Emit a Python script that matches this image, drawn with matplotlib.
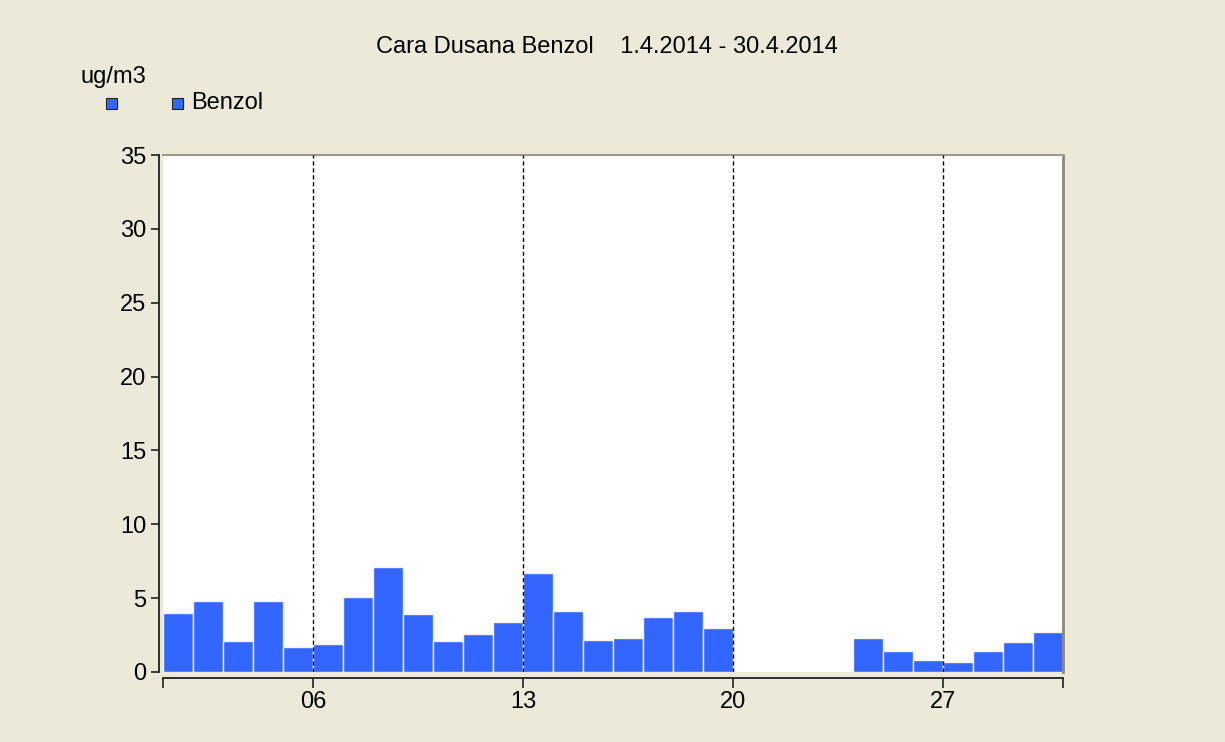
import numpy as np
import matplotlib
matplotlib.use("Agg")
import matplotlib.pyplot as plt
from matplotlib.patches import Rectangle

plt.rcParams['font.family'] = ['Liberation Sans', 'DejaVu Sans']

# ---- data ----
days = list(range(1, 31))
benzol = [4.0, 4.8, 2.1, 4.8, 1.7, 1.9, 5.1, 7.1, 3.9, 2.1,
          2.6, 3.4, 6.7, 4.1, 2.2, 2.3, 3.7, 4.1, 3.0, np.nan,
          np.nan, np.nan, np.nan, 2.3, 1.4, 0.8, 0.7, 1.4, 2.0, 2.7]
tick_days = [0, 5, 12, 19, 26, 30]
tick_labels = ['', '06', '13', '20', '27', '']
yticks = [0, 5, 10, 15, 20, 25, 30, 35]
title = 'Cara Dusana Benzol    1.4.2014 - 30.4.2014'
unit = 'ug/m3'
series_name = 'Benzol'

BG = '#ECE9D8'
BAR = '#3366FF'
FS = 17
TXT = '#000000'

W, H = 1225, 742
fig = plt.figure(figsize=(W / 100, H / 100), dpi=100, facecolor=BG)
ax = fig.add_axes([163 / W, (H - 672) / H, (1063 - 163) / W, (672 - 155) / H])
ax.set_facecolor('white')

x = np.array(days) - 0.5
ax.bar(x, benzol, width=1.0, color=BAR, edgecolor='#F2F2F2', linewidth=1.0, zorder=2)

for d in tick_days[1:-1]:
    ax.axvline(d, color='black', linestyle=(0, (3, 2)), linewidth=1.0, zorder=3)

ax.set_xlim(0, 30)
ax.set_ylim(0, 35)
ax.set_yticks(yticks)
ax.set_yticklabels([str(v) for v in yticks])
ax.set_xticks(tick_days)
ax.set_xticklabels(tick_labels)

ax.spines['left'].set_position(('outward', 3))
ax.spines['bottom'].set_position(('outward', 4))
ax.spines['left'].set_color('#202020')
ax.spines['bottom'].set_color('#202020')
ax.spines['left'].set_linewidth(1.3)
ax.spines['bottom'].set_linewidth(1.3)
ax.spines['top'].set_color('#9A9A8E')
ax.spines['right'].set_color('#8A8A80')
ax.spines['top'].set_linewidth(1.5)
ax.spines['right'].set_linewidth(2.0)
ax.tick_params(axis='y', length=6, width=1.2, pad=3, colors='#202020', labelcolor=TXT, labelsize=FS)
ax.tick_params(axis='x', length=7, width=1.2, pad=3, colors='#202020', labelcolor=TXT, labelsize=FS)

fig.text(607 / W, 1 - 47 / H, title, ha='center', va='center', fontsize=FS, color=TXT)
fig.text(80 / W, 1 - 77 / H, unit, ha='left', va='center', fontsize=FS, color=TXT)

for sx in (106, 172):
    fig.add_artist(Rectangle((sx / W, 1 - 109 / H), 11 / W, 11 / H, transform=fig.transFigure,
                             facecolor=BAR, edgecolor='#222222', linewidth=0.8))
fig.text(191 / W, 1 - 103 / H, series_name, ha='left', va='center', fontsize=FS, color=TXT)

fig.savefig('out.png', dpi=100, facecolor=BG)
